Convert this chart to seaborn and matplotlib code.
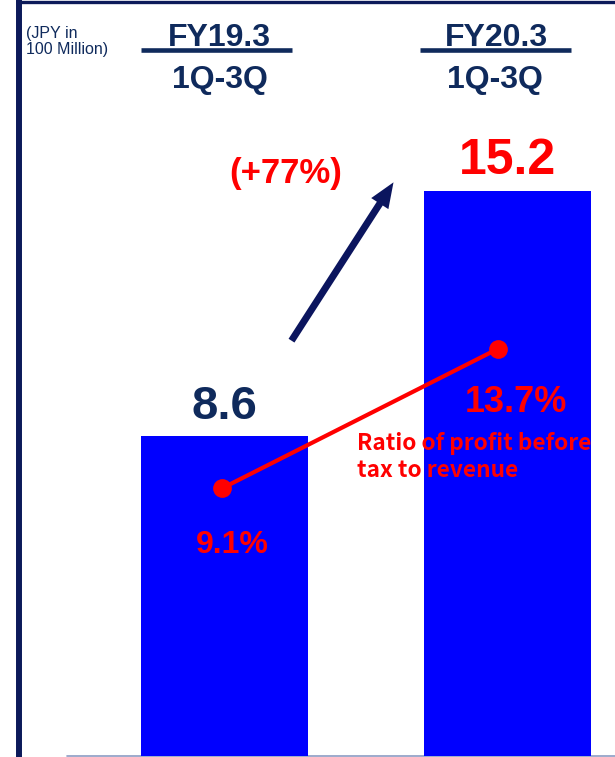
import matplotlib
matplotlib.use("Agg")
import matplotlib.pyplot as plt
import seaborn as sns
import pandas as pd
from matplotlib.lines import Line2D
from matplotlib.patches import FancyArrowPatch

# ---- data -------------------------------------------------------------
periods = ["FY19.3", "FY20.3"]
period_sub = ["1Q-3Q", "1Q-3Q"]
profit = [8.6, 15.2]            # profit before tax, JPY 100 million
ratio = [9.1, 13.7]             # ratio of profit before tax to revenue, %
profit_labels = ["8.6", "15.2"]
ratio_labels = ["9.1%", "13.7%"]
growth_label = "(+77%)"
unit_label = "(JPY in\n100 Million)"
ratio_caption = "Ratio of profit before\ntax to revenue"

# ---- style ------------------------------------------------------------
W, H = 615, 757
sns.set_style("white")
plt.rcParams["font.family"] = ["Liberation Sans", "DejaVu Sans"]

NAVY = "#0f2a5c"
ARROW = "#0b155e"
BORDER = "#0c1a5a"
RED = "#ff0000"
BLUE = "#0000ff"


def fx(px):
    return px / W


def fy(py):
    return 1 - py / H


fig = plt.figure(figsize=(W / 100, H / 100), dpi=100)
ax = fig.add_axes([0, 0, 1, 1])

df = pd.DataFrame({"period": periods, "profit": profit})
sns.barplot(data=df, x="period", y="profit", color=BLUE, saturation=1,
            width=0.59, linewidth=0, ax=ax, zorder=2)

ax.set_xlim(-0.7933, 1.3799)
ax.set_ylim(-0.0269, 20.34)
ax.axhline(0, xmin=67 / W, xmax=1, color="#8c9cc4", lw=1.2, zorder=1)
ax.set_axis_off()

# bar value labels
for i, (v, lab) in enumerate(zip(profit, profit_labels)):
    col = NAVY if i == 0 else RED
    size = 34 if i == 0 else 36
    ax.annotate(lab, xy=(i, v), xytext=(0, 12.5), textcoords="offset points",
                ha="center", va="baseline", fontsize=size, fontweight="bold",
                color=col, zorder=5)

# ratio line on a secondary scale
ax2 = ax.twinx()
ax2.set_ylim(0.247, 25.206)
ax2.set_xlim(ax.get_xlim())
x_line = [-0.01, 0.965]
sns.lineplot(x=x_line, y=ratio, ax=ax2, color=RED, lw=3, marker="o",
             markersize=13.5, markeredgewidth=0, zorder=4)
ax2.set_axis_off()

label_offsets = [(7.5, -46.5), (13.5, -45.5)]
label_sizes = [23, 26]
for x, v, lab, off, s in zip(x_line, ratio, ratio_labels, label_offsets, label_sizes):
    ax2.annotate(lab, xy=(x, v), xytext=off, textcoords="offset points",
                 ha="center", va="baseline", fontsize=s, fontweight="bold",
                 color=RED, zorder=5)

fig.text(fx(357), fy(432), ratio_caption, ha="left", va="top",
         fontsize=16.3, fontweight="bold", color=RED, linespacing=1.2,
         family=["Noto Sans CJK JP", "DejaVu Sans"])

# period headers
for cx, cx2, uline, top, sub in zip([219, 496.5], [219.6, 495],
                                    [(141, 292), (420, 571)], periods, period_sub):
    fig.text(fx(cx), fy(46.5), top, ha="center", va="baseline",
             fontsize=23, fontweight="bold", color=NAVY)
    fig.add_artist(Line2D([fx(uline[0]), fx(uline[1])], [fy(50), fy(50)],
                          transform=fig.transFigure, color=NAVY, lw=3.3,
                          solid_capstyle="butt"))
    fig.text(fx(cx2), fy(88), sub, ha="center", va="baseline",
             fontsize=23, fontweight="bold", color=NAVY)

fig.text(fx(26), fy(26), unit_label, ha="left", va="top", fontsize=11.5,
         color=NAVY, linespacing=1.1)

# growth arrow and label
arrow = FancyArrowPatch((fx(290), fy(343)), (fx(395), fy(180)),
                        transform=fig.transFigure,
                        arrowstyle="simple,head_length=1.3,head_width=1.05,tail_width=0.36",
                        mutation_scale=14, color=ARROW, lw=0)
fig.add_artist(arrow)
fig.text(fx(286), fy(183), growth_label, ha="center", va="baseline",
         fontsize=25, fontweight="bold", color=RED)

# frame
fig.add_artist(Line2D([fx(18.6), fx(18.6)], [0, 1], transform=fig.transFigure,
                      color=BORDER, lw=4.3, solid_capstyle="butt"))
fig.add_artist(Line2D([fx(15.5), 1], [fy(1.6), fy(1.6)], transform=fig.transFigure,
                      color=BORDER, lw=2.4, solid_capstyle="butt"))

fig.savefig("out.png", dpi=100)
